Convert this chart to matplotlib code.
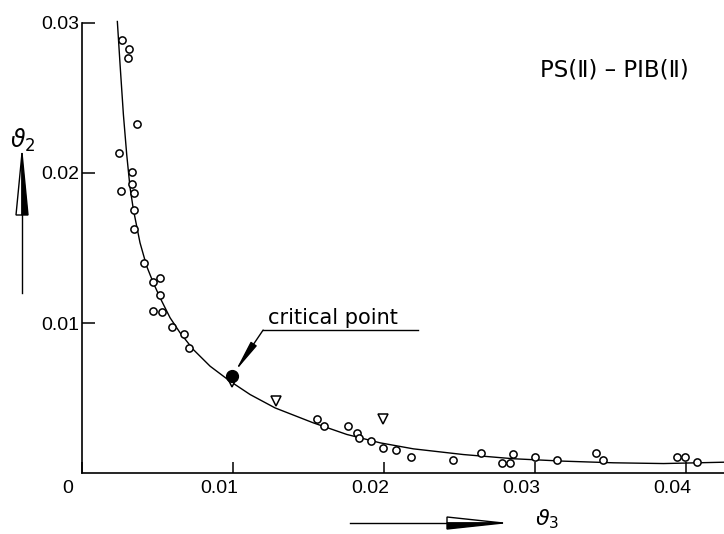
import numpy as np
import matplotlib
matplotlib.use("Agg")
from matplotlib import pyplot as plt
from matplotlib import transforms as mtransforms
from matplotlib.patches import Polygon

plt.rcParams['mathtext.fontset'] = 'dejavusans'

# measured points (open circles)
v3_circ = [0.00263, 0.00309, 0.00305, 0.00362, 0.00247, 0.00329, 0.00331, 0.00256,
           0.00342, 0.00342, 0.00342, 0.00411, 0.00472, 0.00517, 0.00517, 0.00472,
           0.00528, 0.00596, 0.00674, 0.00711, 0.01554, 0.01603, 0.01760, 0.01819,
           0.01836, 0.01912, 0.01991, 0.02081, 0.02181, 0.02459, 0.02642, 0.02783,
           0.02834, 0.02856, 0.03000, 0.03146, 0.03404, 0.03446, 0.03938, 0.03993,
           0.04071]
v2_circ = [0.02885, 0.02825, 0.02767, 0.02327, 0.02135, 0.02005, 0.01927, 0.01878,
           0.01867, 0.01751, 0.01627, 0.01400, 0.01275, 0.01302, 0.01189, 0.01078,
           0.01075, 0.00973, 0.00925, 0.00831, 0.00360, 0.00311, 0.00311, 0.00265,
           0.00235, 0.00213, 0.00165, 0.00155, 0.00109, 0.00087, 0.00133, 0.00069,
           0.00069, 0.00127, 0.00107, 0.00085, 0.00133, 0.00085, 0.00107, 0.00107,
           0.00075]

# open triangles
v3_tri = [0.00991, 0.01285, 0.01991]
v2_tri = [0.00605, 0.00482, 0.00360]

# critical point
v3_crit = 0.00995
v2_crit = 0.00649

# drawn curve
v3_curve = [0.00234, 0.00252, 0.00274, 0.00296, 0.00318, 0.00340, 0.00384, 0.00428,
            0.00472, 0.00517, 0.00583, 0.00649, 0.00737, 0.00848, 0.00980, 0.01113,
            0.01278, 0.01532, 0.01753, 0.01974, 0.02194, 0.02525, 0.02856, 0.03187,
            0.03519, 0.03850, 0.04252]
v2_curve = [0.03010, 0.02723, 0.02390, 0.02123, 0.01903, 0.01757, 0.01535, 0.01379,
            0.01268, 0.01168, 0.01035, 0.00935, 0.00823, 0.00712, 0.00612, 0.00523,
            0.00434, 0.00334, 0.00257, 0.00201, 0.00161, 0.00123, 0.00095, 0.00079,
            0.00068, 0.00063, 0.00072]

xticks = [0, 0.01, 0.02, 0.03, 0.04]
xticklabels = ['0', '0.01', '0.02', '0.03', '0.04']
yticks = [0.01, 0.02, 0.03]
yticklabels = ['0.01', '0.02', '0.03']

W, H = 724, 534
fig = plt.figure(figsize=(W / 100, H / 100), dpi=100)
ax = fig.add_axes([82 / W, 61 / H, 642 / W, 450 / H])
# pixel coords measured from top-left of the picture
px = mtransforms.Affine2D().scale(1 / W, -1 / H).translate(0, 1) + fig.transFigure

ax.plot(v3_curve, v2_curve, color='black', lw=1.0, clip_on=False)
ax.plot(v3_circ, v2_circ, 'o', ms=5.2, mfc='white', mec='black', mew=1.1, clip_on=False)
ax.plot(v3_tri, v2_tri, 'v', ms=7.5, mfc='white', mec='black', mew=1.1, clip_on=False)
ax.plot([v3_crit], [v2_crit], 'o', ms=8.5, color='black', clip_on=False)

ax.set_xlim(0, 0.0425)
ax.set_ylim(0, 0.03)
for s in ['top', 'right']:
    ax.spines[s].set_visible(False)
for s in ['left', 'bottom']:
    ax.spines[s].set_linewidth(1.2)

ax.set_xticks(xticks)
ax.set_xticklabels(xticklabels, fontfamily='Liberation Sans', fontsize=14)
ax.set_yticks(yticks)
ax.set_yticklabels(yticklabels, fontfamily='Liberation Sans', fontsize=14)
ax.tick_params(axis='x', direction='in', length=8, width=1.1, pad=5)
ax.tick_params(axis='y', direction='in', length=9.5, width=1.1, pad=2)
shift = mtransforms.ScaledTranslation(-14 / 100, 0, fig.dpi_scale_trans)
for lab in ax.get_xticklabels():
    lab.set_transform(lab.get_transform() + shift)

# annotation "critical point"
ax.text(0.01232, 0.00990, 'critical point', fontfamily='DejaVu Sans', fontsize=15,
        ha='left', va='baseline')
ax.plot([0.01199, 0.02225], [0.00953, 0.00953], color='black', lw=1.0)
ax.annotate('', xy=(v3_crit, v2_crit), xytext=(0.01199, 0.00953),
            arrowprops=dict(arrowstyle='-|>,head_length=1.9,head_width=0.22',
                            color='black', lw=1.0, shrinkA=0, shrinkB=4,
                            mutation_scale=10))

fig.text(614, 70, 'PS(Ⅱ) – PIB(Ⅱ)', transform=px, ha='center', va='center',
         fontfamily=['DejaVu Sans'], fontsize=16.5)

# axis names with drawn arrows
fig.text(23, 140, r'$\vartheta_2$', transform=px, ha='center', va='center', fontsize=17)
fig.text(547, 519, r'$\vartheta_3$', transform=px, ha='center', va='center', fontsize=16)

fig.add_artist(plt.Line2D([22, 22], [293, 215], color='black', lw=1.0, transform=px))
fig.add_artist(Polygon([(16, 215), (22, 153), (22, 215)], closed=True, fc='white',
                       ec='black', lw=1.0, transform=px))
fig.add_artist(Polygon([(22, 215), (22, 153), (28, 215)], closed=True, fc='black',
                       ec='black', lw=1.0, transform=px))

fig.add_artist(plt.Line2D([350, 447], [523, 523], color='black', lw=1.0, transform=px))
fig.add_artist(Polygon([(447, 517), (503, 523), (447, 523)], closed=True, fc='white',
                       ec='black', lw=1.0, transform=px))
fig.add_artist(Polygon([(447, 523), (503, 523), (447, 529)], closed=True, fc='black',
                       ec='black', lw=1.0, transform=px))

fig.savefig('out.png', dpi=100)
